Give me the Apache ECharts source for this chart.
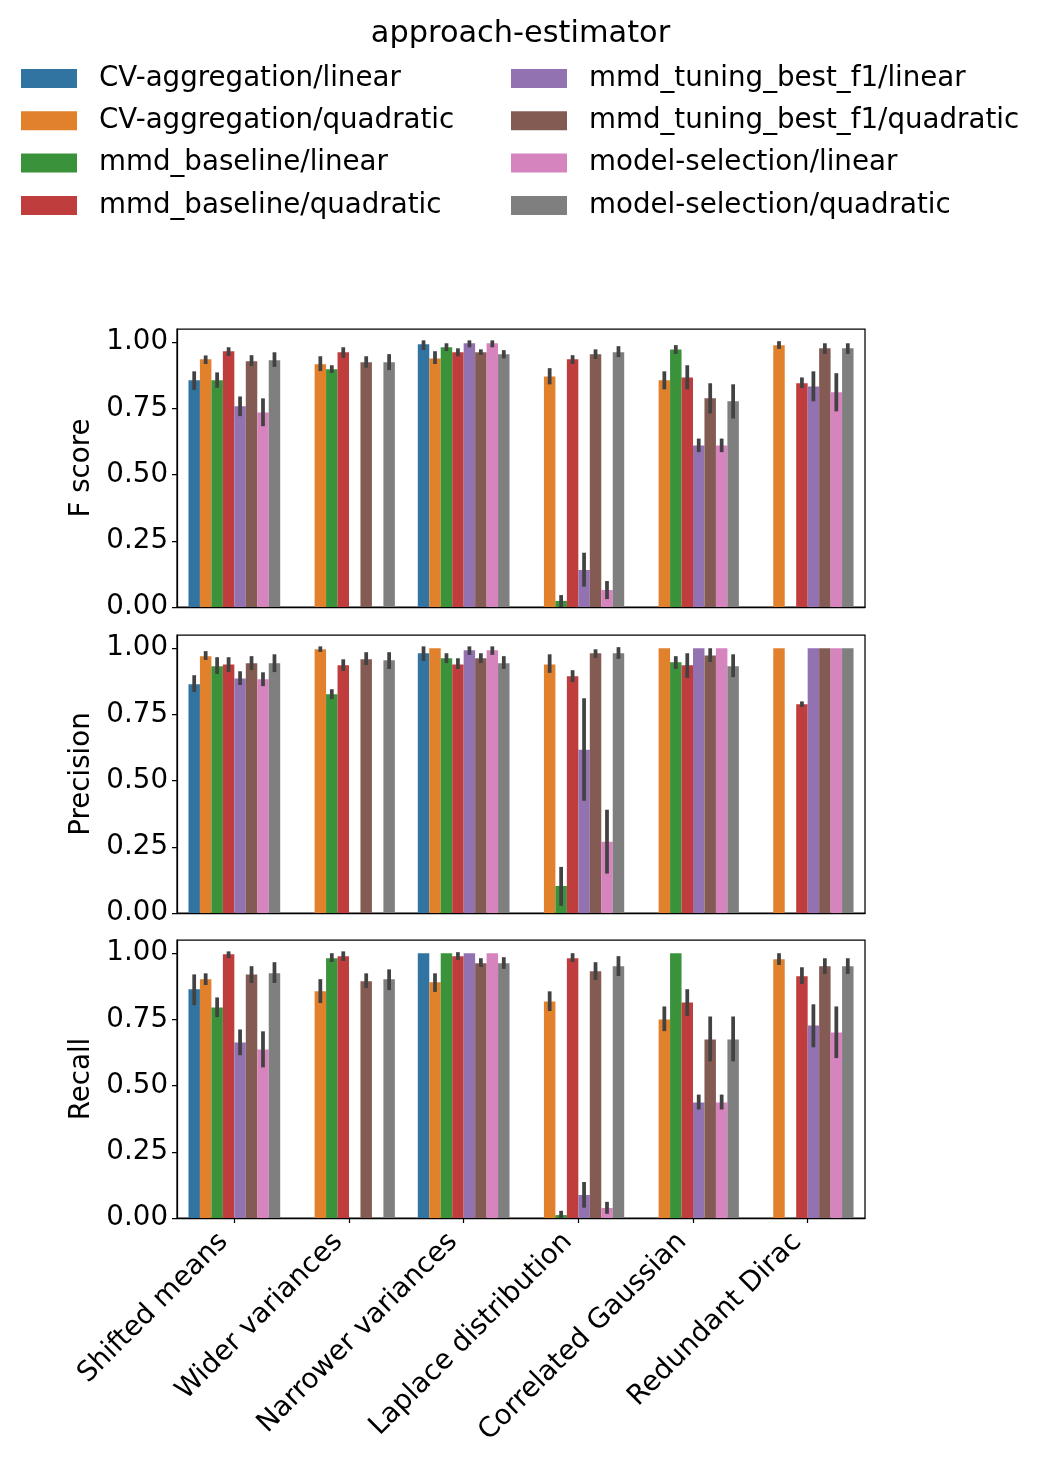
<!DOCTYPE html>
<html>
<head>
<meta charset="utf-8">
<script src="https://cdn.jsdelivr.net/npm/echarts@6/dist/echarts.min.js"></script>
<style>
  html, body { margin: 0; padding: 0; background: #fff; }
  #main { width: 1041px; height: 1457px; }
</style>
</head>
<body>
<div id="main"></div>
<script>
var categories = ['Shifted means', 'Wider variances', 'Narrower variances', 'Laplace distribution', 'Correlated Gaussian', 'Redundant Dirac'];
var approaches = ['CV-aggregation/linear', 'CV-aggregation/quadratic', 'mmd_baseline/linear', 'mmd_baseline/quadratic',
                  'mmd_tuning_best_f1/linear', 'mmd_tuning_best_f1/quadratic', 'model-selection/linear', 'model-selection/quadratic'];
var colors = ['#3274a1', '#e1812c', '#3a923a', '#c03d3e', '#9372b2', '#845b53', '#d684bd', '#7f7f7f'];
var metrics = ['F score', 'Precision', 'Recall'];
var yTicks = [0, 0.25, 0.5, 0.75, 1.0];

// mean per approach (rows) and category (cols), null = no bar
var fMean = [
    [0.856, null, 0.992, null, null, null],
    [0.936, 0.917, 0.939, 0.871, 0.856, 0.989],
    [0.856, 0.898, 0.981, 0.023, 0.973, null],
    [0.966, 0.962, 0.962, 0.936, 0.867, 0.845],
    [0.758, null, 0.996, 0.140, 0.610, 0.833],
    [0.928, 0.924, 0.962, 0.955, 0.788, 0.977],
    [0.735, null, 0.996, 0.064, 0.610, 0.811],
    [0.932, 0.924, 0.955, 0.962, 0.777, 0.977]
];
// confidence intervals [lo, hi]
var fErr = [
    [[0.827, 0.883], null, [0.978, 1.0], null, null, null],
    [[0.925, 0.943], [0.898, 0.940], [0.925, 0.959], [0.848, 0.895], [0.829, 0.883], [0.982, 0.997]],
    [[0.835, 0.879], [0.891, 0.906], [0.974, 0.989], [0.0, 0.038], [0.963, 0.982], null],
    [[0.955, 0.974], [0.948, 0.974], [0.954, 0.970], [0.925, 0.944], [0.829, 0.906], [0.834, 0.860]],
    [[0.728, 0.788], null, [0.988, 1.0], [0.084, 0.198], [0.592, 0.629], [0.784, 0.883]],
    [[0.917, 0.944], [0.911, 0.940], [0.959, 0.966], [0.944, 0.966], [0.738, 0.838], [0.963, 0.989]],
    [[0.690, 0.781], null, [0.988, 1.0], [0.037, 0.091], [0.592, 0.629], [0.746, 0.876]],
    [[0.914, 0.955], [0.902, 0.948], [0.946, 0.963], [0.951, 0.978], [0.719, 0.834], [0.963, 0.989]]
];

var pMean = [
    [0.864, null, 0.981, null, null, null],
    [0.970, 0.996, 1.0, 0.939, 1.0, 1.0],
    [0.932, 0.826, 0.962, 0.102, 0.947, null],
    [0.939, 0.936, 0.939, 0.894, 0.936, 0.788],
    [0.886, null, 0.992, 0.617, 1.0, 1.0],
    [0.943, 0.958, 0.962, 0.981, 0.973, 1.0],
    [0.883, null, 0.992, 0.269, 1.0, 1.0],
    [0.943, 0.955, 0.943, 0.981, 0.932, 1.0]
];
var pErr = [
    [[0.842, 0.891], null, [0.959, 1.0], null, null, null],
    [[0.963, 0.982], [0.993, 1.0], null, [0.914, 0.970], null, null],
    [[0.910, 0.959], [0.815, 0.838], [0.951, 0.974], [0.034, 0.167], [0.929, 0.963], null],
    [[0.917, 0.959], [0.921, 0.951], [0.929, 0.955], [0.879, 0.910], [0.895, 0.974], [0.785, 0.792]],
    [[0.868, 0.906], null, [0.982, 1.0], [0.431, 0.804], null, null],
    [[0.925, 0.963], [0.944, 0.978], [0.951, 0.974], [0.970, 0.989], [0.955, 0.993], null],
    [[0.864, 0.902], null, [0.982, 1.0], [0.156, 0.383], null, null],
    [[0.917, 0.970], [0.929, 0.978], [0.929, 0.963], [0.967, 0.997], [0.898, 0.970], null]
];

var rMean = [
    [0.864, null, 1.0, null, null, null],
    [0.902, 0.856, 0.890, 0.818, 0.750, 0.977],
    [0.795, 0.981, 1.0, 0.011, 1.0, null],
    [0.996, 0.989, 0.989, 0.981, 0.814, 0.913],
    [0.663, null, 1.0, 0.087, 0.436, 0.727],
    [0.920, 0.894, 0.962, 0.932, 0.674, 0.951],
    [0.636, null, 1.0, 0.038, 0.436, 0.701],
    [0.924, 0.902, 0.962, 0.951, 0.674, 0.951]
];
var rErr = [
    [[0.811, 0.913], null, null, null, null, null],
    [[0.887, 0.917], [0.819, 0.895], [0.861, 0.917], [0.789, 0.849], [0.713, 0.792], [0.963, 0.993]],
    [[0.766, 0.826], [0.974, 0.993], null, [0.0, 0.020], null, null],
    [[0.989, 1.0], [0.978, 1.0], [0.982, 0.997], [0.974, 0.993], [0.770, 0.857], [0.891, 0.940]],
    [[0.622, 0.705], null, null, [0.046, 0.129], [0.417, 0.459], [0.652, 0.800]],
    [[0.895, 0.944], [0.876, 0.917], [0.955, 0.974], [0.906, 0.959], [0.599, 0.754], [0.929, 0.974]],
    [[0.576, 0.698], null, null, [0.023, 0.054], [0.417, 0.459], [0.611, 0.792]],
    [[0.895, 0.959], [0.868, 0.932], [0.948, 0.978], [0.921, 0.982], [0.599, 0.754], [0.929, 0.974]]
];

var means = [fMean, pMean, rMean];
var errs = [fErr, pErr, rErr];

var FONT = 'DejaVu Sans';
var FS = 27.7;
var gridTops = [329, 635, 940];

var grids = [], xAxes = [], yAxes = [], series = [];

for (var p = 0; p < 3; p++) {
    grids.push({
        left: 177, right: 176, top: gridTops[p], height: 278,
        show: true, borderColor: '#000', borderWidth: 1.25, backgroundColor: 'transparent'
    });
    var last = (p === 2);
    xAxes.push({
        type: 'category',
        gridIndex: p,
        data: categories,
        axisLine: { show: true, lineStyle: { color: '#000', width: 1.25 } },
        axisTick: { show: last, alignWithLabel: true, length: 5, lineStyle: { color: '#000', width: 1.25 } },
        axisLabel: {
            show: last, rotate: 45, margin: 9, interval: 0,
            padding: [0, 15, 0, 0],
            fontFamily: FONT, fontSize: FS, color: '#000'
        },
        splitLine: { show: false }
    });
    yAxes.push({
        type: 'value',
        gridIndex: p,
        min: 0, max: 1.05,
        name: metrics[p],
        nameLocation: 'middle',
        nameGap: 80,
        nameTextStyle: { fontFamily: FONT, fontSize: FS, color: '#000' },
        axisLine: { show: true, lineStyle: { color: '#000', width: 1.25 } },
        axisTick: { show: true, length: 5, customValues: yTicks, lineStyle: { color: '#000', width: 1.25 } },
        axisLabel: {
            customValues: yTicks, margin: 9,
            padding: [5, 0, 0, 0],
            fontFamily: FONT, fontSize: FS, color: '#000',
            formatter: function (v) { return v.toFixed(2); }
        },
        splitLine: { show: false }
    });

    for (var k = 0; k < approaches.length; k++) {
        series.push({
            type: 'bar',
            name: approaches[k],
            xAxisIndex: p, yAxisIndex: p,
            data: means[p][k],
            barGap: '0%',
            barCategoryGap: '20%',
            itemStyle: { color: colors[k] },
            emphasis: { disabled: true }
        });
    }

    // error bars
    var errData = [];
    for (var k2 = 0; k2 < approaches.length; k2++) {
        for (var c = 0; c < categories.length; c++) {
            var e = errs[p][k2][c];
            if (e) errData.push([c, k2, e[0], e[1]]);
        }
    }
    series.push({
        type: 'custom',
        name: 'err' + p,
        xAxisIndex: p, yAxisIndex: p,
        z: 10,
        clip: true,
        encode: { x: 0, y: [2, 3] },
        data: errData,
        renderItem: function (params, api) {
            var cat = api.value(0), k = api.value(1);
            var bw = api.size([1, 0])[0] * 0.8 / approaches.length;
            var x = api.coord([cat, 0])[0] + (k - (approaches.length - 1) / 2) * bw;
            var y1 = api.coord([cat, api.value(2)])[1];
            var y2 = api.coord([cat, api.value(3)])[1];
            return {
                type: 'line',
                shape: { x1: x, y1: y1, x2: x, y2: y2 },
                style: { stroke: '#424242', lineWidth: 3.75, lineCap: 'square' }
            };
        }
    });
}

var legendCommon = {
    orient: 'vertical',
    padding: 0,
    icon: 'rect',
    itemWidth: 56,
    itemHeight: 19,
    itemGap: 14.3,
    selectedMode: false,
    textStyle: { fontFamily: FONT, fontSize: FS, color: '#000', lineHeight: 28, padding: [0, 0, 0, 17] }
};

var chart = echarts.init(document.getElementById('main'));
chart.setOption({
    animation: false,
    backgroundColor: '#fff',
    title: {
        text: 'approach-estimator',
        left: 'center', top: 19, padding: 0,
        textStyle: { fontFamily: FONT, fontSize: 30.4, fontWeight: 'normal', color: '#000' }
    },
    legend: [
        Object.assign({}, legendCommon, { left: 21, top: 64.5, data: approaches.slice(0, 4) }),
        Object.assign({}, legendCommon, { left: 511, top: 64.5, data: approaches.slice(4) })
    ],
    grid: grids,
    xAxis: xAxes,
    yAxis: yAxes,
    series: series
});
</script>
</body>
</html>
